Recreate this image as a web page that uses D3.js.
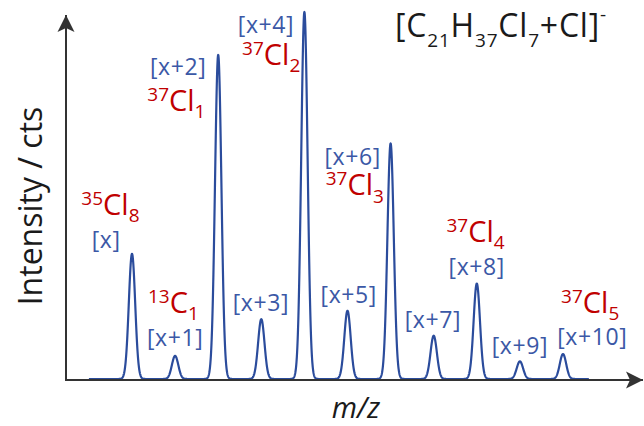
<!DOCTYPE html>
<html><head><meta charset="utf-8">
<script src="https://cdn.jsdelivr.net/npm/d3@7"></script>
<style>body{margin:0;background:#fff}svg{display:block}</style>
</head><body><svg id="c" width="644" height="426"></svg>
<script>
// ---- data ----
const peakOffsets = [0, 1, 2, 3, 4, 5, 6, 7, 8, 9, 10];
const peakLabels = ["[x]", "[x+1]", "[x+2]", "[x+3]", "[x+4]", "[x+5]", "[x+6]", "[x+7]", "[x+8]", "[x+9]", "[x+10]"];
const peakIntensities = [34.1, 6.3, 88.3, 16.3, 100, 18.6, 64.2, 11.8, 26.0, 4.8, 6.8];
const isoSup = ["35", "13", "37", "37", "37", "37", "37"];
const isoBase = ["Cl", "C", "Cl", "Cl", "Cl", "Cl", "Cl"];
const isoSub = ["8", "1", "1", "2", "3", "4", "5"];
const titleParts = [["[C", "n"], ["21", "sub"], ["H", "n"], ["37", "sub"], ["Cl", "n"], ["7", "sub"], ["+Cl]", "n"], ["-", "sup"]];
const yTitle = "Intensity / cts";
const xTitle = "m/z";

// ---- layout (annotation anchors in data units: [m/z offset, intensity]) ----
const blueLabelAt = [[-0.60, 35.7], [1.00, 9.0], [1.07, 82.8], [2.99, 18.5], [3.11, 94.3], [5.03, 20.7], [5.12, 58.3], [6.98, 13.9], [8.00, 28.3], [9.00, 6.8], [10.68, 9.3]];
const redLabelAt = [[-0.50, 44.7], [0.96, 18.0], [1.03, 73.1], [3.23, 85.6], [5.17, 50.1], [7.97, 37.4], [10.63, 18.0]];

const svg = d3.select("#c");
const x = d3.scaleLinear().domain([0, 10]).range([132, 563]);
const y = d3.scaleLinear().domain([0, 100]).range([379, 12]);
const axisX0 = 66, axisY0 = 380;
const FONT = "'Open Sans', sans-serif";
const BLUE_LINE = "#2b4c9c", BLUE_TXT = "#3b58a6", RED = "#c00000", AXIS = "#333333";

// arrow marker
svg.append("defs").append("marker")
  .attr("id", "arr").attr("markerUnits", "userSpaceOnUse")
  .attr("viewBox", "-18 -9 19 18").attr("refX", 0).attr("refY", 0)
  .attr("markerWidth", 19).attr("markerHeight", 18).attr("orient", "auto")
  .append("path").attr("d", "M0,0 L-17,-8.5 L-13,0 L-17,8.5 Z").attr("fill", AXIS);

// spectrum curve (each peak drawn as a narrow profile at its m/z and intensity)
const sigma = 0.074;
const mzGrid = d3.range(-1, 10.6001, 0.004);
const prof = mzGrid.map(m => [m, d3.sum(peakOffsets, (p, i) => peakIntensities[i] * Math.exp(-((m - p) ** 2) / (2 * sigma * sigma)))]);
svg.append("path").datum(prof)
  .attr("d", d3.line().x(d => x(d[0])).y(d => y(d[1])))
  .attr("fill", "none").attr("stroke", BLUE_LINE).attr("stroke-width", 2.2).attr("stroke-linejoin", "round");

// axes
svg.append("line").attr("x1", axisX0 - 1).attr("y1", axisY0).attr("x2", 643).attr("y2", axisY0)
  .attr("stroke", AXIS).attr("stroke-width", 2).attr("marker-end", "url(#arr)");
svg.append("line").attr("x1", axisX0).attr("y1", axisY0 + 1).attr("x2", axisX0).attr("y2", 15)
  .attr("stroke", AXIS).attr("stroke-width", 2).attr("marker-end", "url(#arr)");

// blue peak labels
svg.append("g").selectAll("text").data(peakLabels).join("text")
  .attr("x", (d, i) => x(blueLabelAt[i][0])).attr("y", (d, i) => y(blueLabelAt[i][1]))
  .attr("text-anchor", "middle").attr("font-family", FONT).attr("font-size", 23)
  .attr("letter-spacing", 0.6).attr("fill", BLUE_TXT).text(d => d);

// red isotope labels
const red = svg.append("g").selectAll("text").data(isoBase).join("text")
  .attr("x", (d, i) => x(redLabelAt[i][0])).attr("y", (d, i) => y(redLabelAt[i][1]))
  .attr("text-anchor", "middle").attr("font-family", FONT).attr("fill", RED);
red.append("tspan").attr("font-size", 19).attr("dy", -10).text((d, i) => isoSup[i]);
red.append("tspan").attr("font-size", 29).attr("dy", 10).text(d => d);
red.append("tspan").attr("font-size", 19).attr("dy", 7.5).text((d, i) => isoSub[i]);

// title formula
const t = svg.append("text").attr("x", 395).attr("y", 37).attr("font-family", FONT).attr("fill", "#1a1a1a").attr("letter-spacing", 0.8);
let state = "n";
titleParts.forEach(([s, kind]) => {
  let dy = 0;
  if (kind === "sub") dy = state === "n" ? 10 : 0;
  else if (kind === "sup") dy = state === "n" ? -16 : 0;
  else if (state === "sub") dy = -10;
  else if (state === "sup") dy = 16;
  t.append("tspan").attr("font-size", kind === "n" ? 32 : 19).attr("dy", dy).text(s);
  state = kind;
});

// axis titles
svg.append("text").attr("transform", "translate(42,206) rotate(-90)")
  .attr("text-anchor", "middle").attr("font-family", FONT).attr("font-size", 32).attr("fill", "#1a1a1a").text(yTitle);
svg.append("text").attr("x", 356).attr("y", 418).attr("text-anchor", "middle")
  .attr("font-family", FONT).attr("font-style", "italic").attr("font-size", 29).attr("fill", "#1a1a1a").text(xTitle);
</script></body></html>
